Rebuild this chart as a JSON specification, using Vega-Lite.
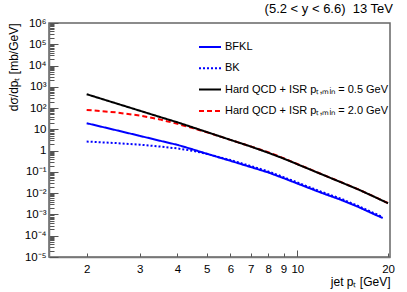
{
  "$schema": "https://vega.github.io/schema/vega-lite/v6.json",
  "width": 341,
  "height": 234,
  "autosize": {"type": "none"},
  "padding": {"left": 49, "top": 23, "right": 17, "bottom": 35},
  "background": "white",
  "title": {"text": "(5.2 < y < 6.6) \u00a013 TeV", "anchor": "end", "frame": "group", "baseline": "alphabetic", "fontSize": 13, "font": "Liberation Sans", "fontWeight": "normal", "color": "#000", "offset": -9, "dx": 3},
  "config": {
    "view": {"stroke": "#666", "strokeWidth": 1.5},
    "axis": {"labelFont": "Liberation Sans", "titleFont": "Liberation Sans", "labelColor": "#000", "titleColor": "#000", "titleFontWeight": "normal", "grid": false}
  },
  "data": {"values": [
    {"s": "BFKL", "x": 2, "y": 19.5}, {"s": "BFKL", "x": 2.5, "y": 9.2}, {"s": "BFKL", "x": 3, "y": 4.95}, {"s": "BFKL", "x": 3.5, "y": 2.92}, {"s": "BFKL", "x": 4, "y": 1.87}, {"s": "BFKL", "x": 4.5, "y": 1.14}, {"s": "BFKL", "x": 5, "y": 0.72}, {"s": "BFKL", "x": 6, "y": 0.332}, {"s": "BFKL", "x": 7, "y": 0.17}, {"s": "BFKL", "x": 8, "y": 0.095}, {"s": "BFKL", "x": 9, "y": 0.051}, {"s": "BFKL", "x": 10, "y": 0.0285}, {"s": "BFKL", "x": 12, "y": 0.0105}, {"s": "BFKL", "x": 14, "y": 0.0048}, {"s": "BFKL", "x": 16, "y": 0.0022}, {"s": "BFKL", "x": 18, "y": 0.00102}, {"s": "BFKL", "x": 19.2, "y": 0.00068},
    {"s": "BK", "x": 2, "y": 2.67}, {"s": "BK", "x": 2.5, "y": 2.27}, {"s": "BK", "x": 3, "y": 1.91}, {"s": "BK", "x": 3.5, "y": 1.56}, {"s": "BK", "x": 4, "y": 1.27}, {"s": "BK", "x": 4.5, "y": 0.98}, {"s": "BK", "x": 5, "y": 0.71}, {"s": "BK", "x": 6, "y": 0.36}, {"s": "BK", "x": 7, "y": 0.19}, {"s": "BK", "x": 8, "y": 0.106}, {"s": "BK", "x": 9, "y": 0.057}, {"s": "BK", "x": 10, "y": 0.032}, {"s": "BK", "x": 12, "y": 0.0117}, {"s": "BK", "x": 14, "y": 0.0054}, {"s": "BK", "x": 16, "y": 0.00245}, {"s": "BK", "x": 18, "y": 0.00114}, {"s": "BK", "x": 19.2, "y": 0.00076},
    {"s": "H20", "x": 2, "y": 82}, {"s": "H20", "x": 2.5, "y": 62.8}, {"s": "H20", "x": 3, "y": 44.5}, {"s": "H20", "x": 3.5, "y": 29.4}, {"s": "H20", "x": 4, "y": 18.1}, {"s": "H20", "x": 4.5, "y": 11.4}, {"s": "H20", "x": 5, "y": 7.38}, {"s": "H20", "x": 6, "y": 3.2}, {"s": "H20", "x": 7, "y": 1.58}, {"s": "H20", "x": 8, "y": 0.85}, {"s": "H20", "x": 9, "y": 0.44}, {"s": "H20", "x": 10, "y": 0.235}, {"s": "H20", "x": 12, "y": 0.08}, {"s": "H20", "x": 14, "y": 0.0325}, {"s": "H20", "x": 16, "y": 0.0148}, {"s": "H20", "x": 18, "y": 0.0069}, {"s": "H20", "x": 20, "y": 0.0034},
    {"s": "H05", "x": 2, "y": 450}, {"s": "H05", "x": 2.5, "y": 168}, {"s": "H05", "x": 3, "y": 75.5}, {"s": "H05", "x": 3.5, "y": 38.2}, {"s": "H05", "x": 4, "y": 21.5}, {"s": "H05", "x": 4.5, "y": 12.4}, {"s": "H05", "x": 5, "y": 7.55}, {"s": "H05", "x": 6, "y": 3.21}, {"s": "H05", "x": 7, "y": 1.57}, {"s": "H05", "x": 8, "y": 0.8}, {"s": "H05", "x": 9, "y": 0.426}, {"s": "H05", "x": 10, "y": 0.23}, {"s": "H05", "x": 12, "y": 0.0788}, {"s": "H05", "x": 14, "y": 0.0321}, {"s": "H05", "x": 16, "y": 0.0146}, {"s": "H05", "x": 18, "y": 0.00678}, {"s": "H05", "x": 20, "y": 0.00336}
  ]},
  "mark": {"type": "line", "strokeWidth": 2, "clip": true},
  "encoding": {
    "x": {
      "field": "x", "type": "quantitative",
      "scale": {"type": "log", "domain": [1.5, 20.3], "nice": false, "zero": false},
      "axis": {
        "orient": "bottom",
        "values": [2, 3, 4, 5, 6, 7, 8, 9, 10, 20],
        "labelExpr": "datum.value + ''",
        "labelFontSize": 11.5,
        "labelOverlap": false, "labelFlush": false, "labelBound": false,
        "tickColor": "#555", "tickWidth": 1,
        "tickSize": {"condition": {"test": "datum.value == 10", "value": -7}, "value": -4},
        "labelPadding": {"condition": {"test": "datum.value == 10", "value": 13}, "value": 10},
        "domainColor": "#777", "domainWidth": 1.5,
        "title": "jet pₜ [GeV]", "titleFontSize": 12, "titleAnchor": "end", "titlePadding": 2
      }
    },
    "y": {
      "field": "y", "type": "quantitative",
      "scale": {"type": "log", "domain": [0.00001, 1000000], "nice": false, "zero": false},
      "axis": {
        "orient": "left",
        "values": [0.00001, 0.00002, 0.00003, 0.00004, 0.00005, 0.00006, 0.00007, 0.00008, 0.00009,
                   0.0001, 0.0002, 0.0003, 0.0004, 0.0005, 0.0006, 0.0007, 0.0008, 0.0009,
                   0.001, 0.002, 0.003, 0.004, 0.005, 0.006, 0.007, 0.008, 0.009,
                   0.01, 0.02, 0.03, 0.04, 0.05, 0.06, 0.07, 0.08, 0.09,
                   0.1, 0.2, 0.3, 0.4, 0.5, 0.6, 0.7, 0.8, 0.9,
                   1, 2, 3, 4, 5, 6, 7, 8, 9,
                   10, 20, 30, 40, 50, 60, 70, 80, 90,
                   100, 200, 300, 400, 500, 600, 700, 800, 900,
                   1000, 2000, 3000, 4000, 5000, 6000, 7000, 8000, 9000,
                   10000, 20000, 30000, 40000, 50000, 60000, 70000, 80000, 90000,
                   100000, 200000, 300000, 400000, 500000, 600000, 700000, 800000, 900000,
                   1000000],
        "labelExpr": "abs(log(datum.value)/LN10 - round(log(datum.value)/LN10)) > 0.001 ? '' : round(log(datum.value)/LN10) == 0 ? '1' : round(log(datum.value)/LN10) == 1 ? '10' : '10' + (datum.value < 1 ? '⁻' : '') + substring('⁰¹²³⁴⁵⁶⁷⁸⁹', abs(round(log(datum.value)/LN10)), abs(round(log(datum.value)/LN10)) + 1)",
        "labelFontSize": 11.5,
        "labelOverlap": false, "labelFlush": false, "labelBound": false,
        "tickColor": "#555", "tickWidth": 1,
        "tickSize": {"condition": {"test": "abs(log(datum.value)/LN10 - round(log(datum.value)/LN10)) < 0.001", "value": -9}, "value": -5},
        "labelPadding": {"condition": {"test": "abs(log(datum.value)/LN10 - round(log(datum.value)/LN10)) < 0.001", "value": 12}, "value": 8},
        "domainColor": "#777", "domainWidth": 1.5,
        "title": "dσ/dpₜ [mb/GeV]", "titleFontSize": 12, "titleAnchor": "end", "titlePadding": 4
      }
    },
    "color": {
      "field": "s", "type": "nominal",
      "scale": {"domain": ["BFKL", "BK", "H05", "H20"], "range": ["#0000ff", "#0000ff", "#000000", "#ff0000"]},
      "legend": {
        "orient": "none", "legendX": 149, "legendY": 12, "title": null,
        "symbolType": "stroke", "symbolSize": 484, "symbolStrokeWidth": 2,
        "labelFont": "Liberation Sans", "labelFontSize": 11, "labelColor": "#000",
        "labelOffset": 3, "rowPadding": 4.3, "labelLimit": 300,
        "labelExpr": "datum.value == 'H05' ? 'Hard QCD + ISR pₜ,ₘᵢₙ = 0.5 GeV' : datum.value == 'H20' ? 'Hard QCD + ISR pₜ,ₘᵢₙ = 2.0 GeV' : datum.value"
      }
    },
    "strokeDash": {
      "field": "s", "type": "nominal",
      "scale": {"domain": ["BFKL", "BK", "H05", "H20"], "range": [[1, 0], [2, 2], [1, 0], [5, 3]]},
      "legend": {
        "orient": "none", "legendX": 149, "legendY": 12, "title": null,
        "symbolType": "stroke", "symbolSize": 484, "symbolStrokeWidth": 2,
        "labelFont": "Liberation Sans", "labelFontSize": 11, "labelColor": "#000",
        "labelOffset": 3, "rowPadding": 4.3, "labelLimit": 300,
        "labelExpr": "datum.value == 'H05' ? 'Hard QCD + ISR pₜ,ₘᵢₙ = 0.5 GeV' : datum.value == 'H20' ? 'Hard QCD + ISR pₜ,ₘᵢₙ = 2.0 GeV' : datum.value"
      }
    }
  }
}
